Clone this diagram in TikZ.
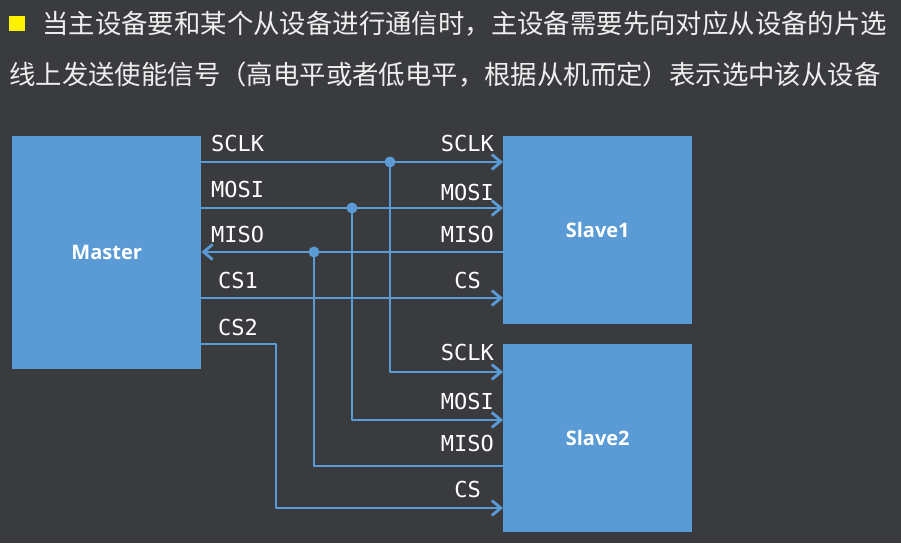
\documentclass[tikz,border=0pt]{standalone}
\usepackage{fontspec}
\setmainfont{Open Sans}
\newfontfamily\cjkfont{Noto Sans CJK SC}
\newfontfamily\monofont{DejaVu Sans Mono}
\usetikzlibrary{arrows.meta}
\definecolor{bgcol}{RGB}{58,59,63}
\definecolor{boxblue}{RGB}{91,155,213}
\definecolor{txtcol}{RGB}{238,238,238}
\begin{document}
\begin{tikzpicture}[x=1pt,y=-1pt,line join=round,>={Straight Barb[length=9pt,width=15pt]},
    box/.style={fill=boxblue,draw=none,anchor=north west,minimum width=189pt,text=white,font=\fontsize{20}{22}\selectfont\bfseries},
    sig/.style={draw=boxblue,line width=2.8pt},
    lbl/.style={text=white,inner sep=0pt,font=\monofont\fontsize{22}{24}\selectfont},
    head/.style={text=txtcol,inner sep=0pt,anchor=west,font=\cjkfont\fontsize{26.4}{28}\selectfont}]
            \fill[bgcol] (0,0) rectangle (901,543);
            %\draw[help lines] (0,0) grid[step=50] (901,543);
            \fill[yellow] (9,16) rectangle (25,31);
            \node[head] (line1) at (42,24) {当主设备要和某个从设备进行通信时，主设备需要先向对应从设备的片选};
            \node[head] (line2) at (9,75) {线上发送使能信号（高电平或者低电平，根据从机而定）表示选中该从设备};
            \node[box,minimum height=233pt] (master) at (12,136) {Master};
            \node[box,minimum height=188pt] (slaveA) at (503,136) {Slave1};
            \node[box,minimum height=188pt] (slaveB) at (503,344) {Slave2};
            \coordinate (jclk) at (390,162);
            \coordinate (jmosi) at (352,208);
            \coordinate (jmiso) at (314,252);
            \coordinate (csA) at (276,298);
            \coordinate (csB) at (276,344);
            \draw[sig,->] (master.east |- jclk) -- (slaveA.west |- jclk);
            \draw[sig,->] (master.east |- jmosi) -- (slaveA.west |- jmosi);
            \draw[sig,->] (slaveA.west |- jmiso) -- (master.east |- jmiso);
            \draw[sig,->] (master.east |- csA) -- (slaveA.west |- csA);
            \draw[sig,->] (master.east |- csB) -- (csB) |- (slaveB.west |- 0,508);
            \draw[sig,->] (jclk) |- (slaveB.west |- 0,372);
            \draw[sig,->] (jmosi) |- (slaveB.west |- 0,420);
            \draw[sig] (slaveB.west |- 0,466) -| (jmiso);
            \fill[boxblue] (jclk) circle(5.5) (jmosi) circle(5.5) (jmiso) circle(5.5);
            % labels at the master side
            \node[lbl,anchor=west] (mclk) at (211,143) {SCLK};
            \node[lbl,anchor=west] (mmosi) at (211,189) {MOSI};
            \node[lbl,anchor=west] (mmiso) at (211,234) {MISO};
            \node[lbl,anchor=west] (mcsA) at (218,280) {CS1};
            \node[lbl,anchor=west] (mcsB) at (218,327) {CS2};
            % labels at the slave side
            \node[lbl,anchor=east] (aclk) at (494,143) {SCLK};
            \node[lbl,anchor=east] (amosi) at (494,192) {MOSI};
            \node[lbl,anchor=east] (amiso) at (494,234) {MISO};
            \node[lbl,anchor=east] (acs) at (481,280) {CS};
            \node[lbl,anchor=east] (bclk) at (494,352) {SCLK};
            \node[lbl,anchor=east] (bmosi) at (494,401) {MOSI};
            \node[lbl,anchor=east] (bmiso) at (494,443) {MISO};
            \node[lbl,anchor=east] (bcs) at (481,489) {CS};
        \end{tikzpicture}
\end{document}
